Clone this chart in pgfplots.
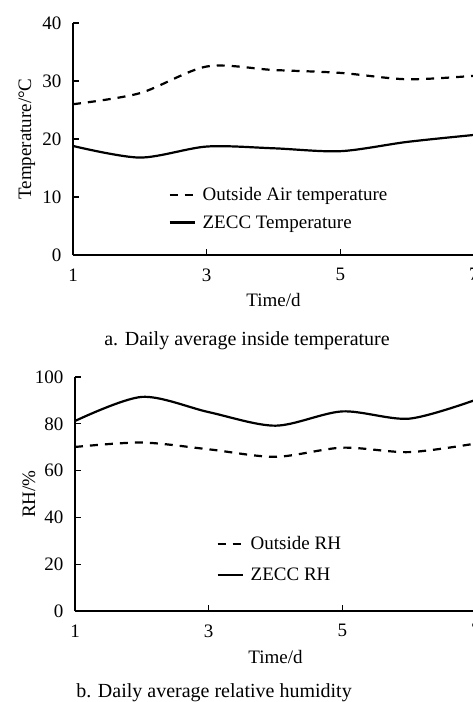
\documentclass[border=0pt]{standalone}
\usepackage{fontspec}
\setmainfont{Liberation Serif}
\usepackage{pgfplots}
\pgfplotsset{compat=1.18}

\pgfplotsset{
  daily/.style={
    scale only axis, width=401pt,
    axis lines=left, axis line style={line width=1.6pt, -},
    xmin=1, xmax=7, xtick={1,3,5,7}, ymin=0,
    tick align=inside, major tick length=6pt,
    tick style={line width=1.3pt, black},
    font=\fontsize{19}{23}\selectfont,
    tick label style={font=\fontsize{19}{23}\selectfont},
    /pgf/number format/assume math mode=true,
    xticklabel style={yshift=-10pt},
    yticklabel style={xshift=-8pt},
    every axis y label/.style={at={(axis description cs:-0.115,0.5)}, rotate=90, anchor=center},
    every axis x label/.style={at={(axis description cs:0.5,-0.195)}, anchor=center},
    legend style={draw=none, fill=none, font=\fontsize{19}{23}\selectfont,
      anchor=north west, /tikz/every odd column/.append style={column sep=5pt}},
    legend cell align=left,
    legend image code/.code={\draw[#1] (0pt,0pt) -- (25pt,0pt);},
    clip=false,
  },
  outside/.style={black, line width=2.2pt, dash pattern=on 8pt off 7pt, smooth},
  zecc/.style={black, line width=2.2pt, smooth},
}

\begin{document}
\begin{tikzpicture}[x=1pt,y=1pt]
% a. temperature
\begin{axis}[daily, at={(73pt,-255pt)}, anchor=south west, height=232pt,
  ymax=40, ytick={0,10,20,30,40},
  xlabel={Time/d}, ylabel={Temperature/°C},
  legend style={at={(axis description cs:0.23,0.308)}, row sep=9pt}]
\addplot[outside] coordinates {(1,26.0) (2,27.9) (3,32.5) (4,31.9) (5,31.4) (6,30.3) (7,30.9)};
\addlegendentry{Outside Air temperature}
\addplot[zecc] coordinates {(1,18.8) (2,16.8) (3,18.7) (4,18.4) (5,17.9) (6,19.5) (7,20.7)};
\addlegendentry{ZECC Temperature}
\end{axis}
\node[anchor=base, font=\fontsize{20}{24}\selectfont] at (247,-345) {a. Daily average inside temperature};

% b. relative humidity
\begin{axis}[daily, at={(75pt,-611pt)}, anchor=south west, height=234pt,
  ymax=100, ytick={0,20,40,60,80,100},
  xlabel={Time/d}, ylabel={RH/\%},
  legend style={at={(axis description cs:0.345,0.336)}, row sep=13pt}]
\addplot[outside] coordinates {(1,70.1) (2,72.0) (3,69.1) (4,65.9) (5,69.8) (6,67.9) (7,71.6)};
\addlegendentry{Outside RH}
\addplot[zecc] coordinates {(1,81.2) (2,91.5) (3,85.0) (4,79.2) (5,85.3) (6,82.2) (7,90.3)};
\addlegendentry{ZECC RH}
\end{axis}
\node[anchor=base, font=\fontsize{20}{24}\selectfont] at (214,-697) {b. Daily average relative humidity};

\pgfresetboundingbox
\path[use as bounding box] (0,0) rectangle (473,-702);
\end{tikzpicture}
\end{document}
